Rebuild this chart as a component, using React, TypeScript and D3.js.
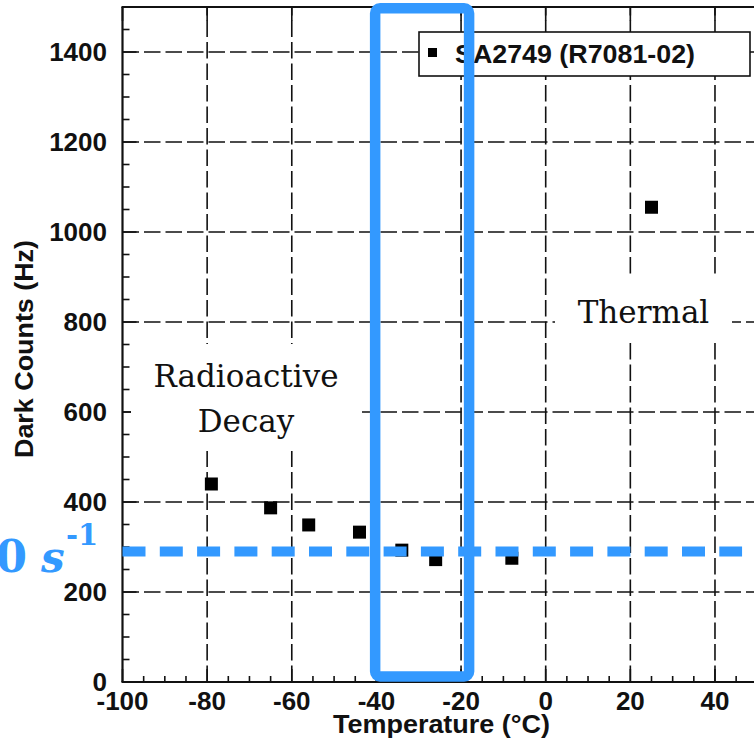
import React from "react";
import * as d3 from "d3";

const temperatures = [-79, -65, -56, -44, -34, -26, -8, 25];
const darkCounts = [440, 387, 349, 333, 293, 272, 275, 1055];
const xMajorTicks = [-100, -80, -60, -40, -20, 0, 20, 40, 60];
const xTickLabels = ["-100", "-80", "-60", "-40", "-20", "0", "20", "40"];
const yMajorTicks = [0, 200, 400, 600, 800, 1000, 1200, 1400];
const yTickLabels = ["0", "200", "400", "600", "800", "1000", "1200", "1400"];
const seriesName = "SA2749 (R7081-02)";
const thresholdRate = 290;
const windowRange = [-40.3, -18.1];

const W = 754;
const H = 743;
const BLUE = "#3399ff";
const SANS = "'Liberation Sans', Arial, Helvetica, sans-serif";
const SERIF = "'DejaVu Serif', serif";

export default function App() {
  const x = d3.scaleLinear().domain([-100, 60]).range([122.5, 122.5 + 160 * 4.232]);
  const y = d3.scaleLinear().domain([0, 1500]).range([682, 7]);
  const left = x(-100);
  const right = x(60);
  const top = y(1500);
  const bottom = y(0);

  const xMinor = d3.range(-100, 61, 5).filter((v) => v % 20 !== 0);
  const yMinor = d3.range(0, 1501, 50).filter((v) => v % 200 !== 0);
  const grid = "16.5,5";

  return (
    <svg
      width={W}
      height={H}
      style={{ position: "absolute", left: 0, top: 0, background: "#fff" }}
    >
      <rect x={0} y={0} width={W} height={H} fill="#fff" />
      {/* gridlines */}
      {xMajorTicks
        .filter((v) => v > -100)
        .map((v) => (
          <line
            key={"gx" + v}
            x1={x(v)}
            x2={x(v)}
            y1={bottom}
            y2={top}
            stroke="#111"
            strokeWidth={1.6}
            strokeDasharray={grid}
          />
        ))}
      {yMajorTicks
        .filter((v) => v > 0)
        .map((v) => (
          <line
            key={"gy" + v}
            x1={left}
            x2={right}
            y1={y(v)}
            y2={y(v)}
            stroke="#111"
            strokeWidth={1.6}
            strokeDasharray={grid}
          />
        ))}
      {/* minor ticks */}
      {xMinor.map((v) => (
        <line key={"mx" + v} x1={x(v)} x2={x(v)} y1={bottom} y2={bottom - 6} stroke="#111" strokeWidth={1.6} />
      ))}
      {yMinor.map((v) => (
        <line key={"my" + v} x1={left} x2={left + 7} y1={y(v)} y2={y(v)} stroke="#111" strokeWidth={1.6} />
      ))}
      {/* major ticks */}
      {xMajorTicks.map((v) => (
        <g key={"tx" + v}>
          <line x1={x(v)} x2={x(v)} y1={bottom} y2={bottom - 13} stroke="#111" strokeWidth={1.6} />
          <line x1={x(v)} x2={x(v)} y1={top} y2={top + 14} stroke="#111" strokeWidth={1.6} />
        </g>
      ))}
      {yMajorTicks.map((v) => (
        <line key={"ty" + v} x1={left} x2={left + 14} y1={y(v)} y2={y(v)} stroke="#111" strokeWidth={1.6} />
      ))}

      {/* annotation boxes */}
      <rect x={131} y={344} width={231} height={107} fill="#fff" />
      <text x={246} y={387} textAnchor="middle" fontFamily={SERIF} fontSize={31} fill="#111">
        Radioactive
      </text>
      <text x={246} y={432} textAnchor="middle" fontFamily={SERIF} fontSize={31} fill="#111">
        Decay
      </text>
      <rect x={555} y={278} width={177} height={65} fill="#fff" />
      <text x={643.5} y={323} textAnchor="middle" fontFamily={SERIF} fontSize={31} fill="#111">
        Thermal
      </text>

      {/* axes */}
      <line x1={left} x2={left} y1={top} y2={bottom} stroke="#111" strokeWidth={2.2} />
      <line x1={left - 1} x2={right} y1={bottom} y2={bottom} stroke="#111" strokeWidth={2.2} />
      <line x1={left - 1} x2={right} y1={top} y2={top} stroke="#111" strokeWidth={2.2} />

      {/* legend */}
      <rect x={419} y={32} width={331} height={44} fill="#fff" stroke="#111" strokeWidth={1.6} />
      <rect x={428} y={48} width={9} height={9} fill="#000" />
      <text x={455} y={63} fontFamily={SANS} fontWeight="bold" fontSize={26.5} fill="#111" textLength={240} lengthAdjust="spacingAndGlyphs">
        {seriesName}
      </text>

      {/* data points */}
      {temperatures.map((t, i) => (
        <rect key={"p" + i} x={x(t) - 6.5} y={y(darkCounts[i]) - 6.5} width={13} height={13} fill="#000" />
      ))}

      {/* tick labels */}
      {yMajorTicks.map((v, i) => (
        <text
          key={"yl" + v}
          x={107}
          y={y(v)}
          dy="0.36em"
          textAnchor="end"
          fontFamily={SANS}
          fontWeight="bold"
          fontSize={26}
          fill="#111"
        >
          {yTickLabels[i]}
        </text>
      ))}
      {xTickLabels.map((lab, i) => (
        <text
          key={"xl" + lab}
          x={x(xMajorTicks[i])}
          y={710}
          textAnchor="middle"
          fontFamily={SANS}
          fontWeight="bold"
          fontSize={26}
          fill="#111"
        >
          {lab}
        </text>
      ))}
      <text x={441.5} y={733} textAnchor="middle" fontFamily={SANS} fontWeight="bold" fontSize={26.5} fill="#111" textLength={217} lengthAdjust="spacingAndGlyphs">
        Temperature (°C)
      </text>
      <text
        transform="translate(32.5,349) rotate(-90)"
        textAnchor="middle"
        fontFamily={SANS}
        fontWeight="bold"
        fontSize={26.5}
        fill="#111"
        textLength={218}
        lengthAdjust="spacingAndGlyphs"
      >
        Dark Counts (Hz)
      </text>

      {/* blue threshold line */}
      <line
        x1={left}
        x2={x(46.4)}
        y1={y(thresholdRate)}
        y2={y(thresholdRate)}
        stroke={BLUE}
        strokeWidth={10}
        strokeDasharray="23,14.3"
      />
      <text x={27} y={572} textAnchor="end" fontFamily={SERIF} fontWeight="bold" fontSize={45} fill={BLUE}>
        {String(thresholdRate)}
      </text>
      <text x={41} y={572} fontFamily={SERIF} fontStyle="italic" fontWeight="bold" fontSize={42} fill={BLUE}>
        s
      </text>
      <text x={66} y={545} fontFamily={SERIF} fontWeight="bold" fontSize={29} fill={BLUE}>
        -1
      </text>

      {/* blue window */}
      <rect
        x={x(windowRange[0])}
        y={y(1497)}
        width={x(windowRange[1]) - x(windowRange[0])}
        height={y(12) - y(1497)}
        rx={5}
        fill="none"
        stroke={BLUE}
        strokeWidth={10.5}
      />
    </svg>
  );
}
